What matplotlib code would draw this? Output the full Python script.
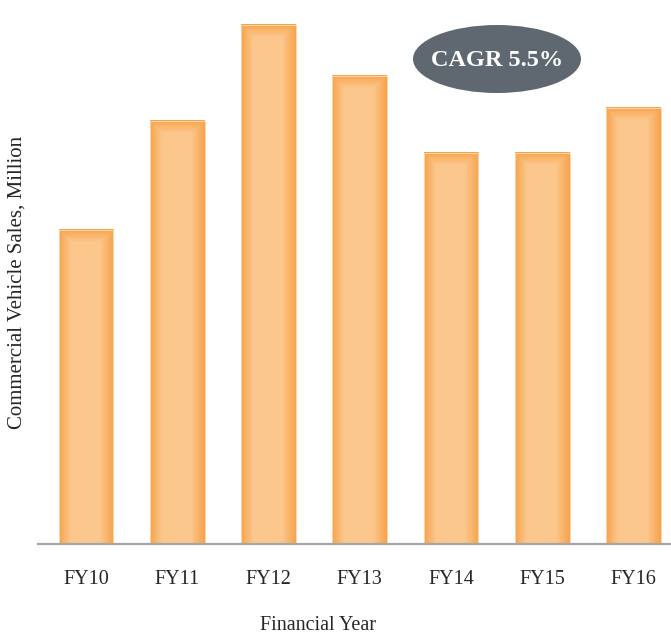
import numpy as np
import matplotlib
matplotlib.use("Agg")
import matplotlib.pyplot as plt
from matplotlib.patches import Ellipse, Rectangle

categories = ["FY10", "FY11", "FY12", "FY13", "FY14", "FY15", "FY16"]
sales = [0.49, 0.66, 0.81, 0.73, 0.61, 0.61, 0.68]
cagr_text = "CAGR 5.5%"

plt.rcParams['font.family'] = ['Liberation Serif', 'DejaVu Serif']

W, H = 671, 633
fig = plt.figure(figsize=(W / 100, H / 100), dpi=100)
ax = fig.add_axes([38 / W, (H - 543.5) / H, (W - 38) / W, 544 / H])
ax.set_xlim(-0.526, 6.411)
ax.set_ylim(0, 0.85)

dark = np.array([247, 163, 74]) / 255
light = np.array([252, 199, 141]) / 255
bw = 0.6
fig.canvas.draw()
for i, v in enumerate(sales):
    x0, x1 = i - bw / 2, i + bw / 2
    p0 = ax.transData.transform((x0, 0))
    p1 = ax.transData.transform((x1, v))
    wpx = max(int(round(p1[0] - p0[0])), 2)
    hpx = max(int(round(p1[1] - p0[1])), 2)
    xx = np.arange(wpx) + 0.5
    yy = np.arange(hpx) + 0.5  # from top
    X, Y = np.meshgrid(xx, yy)
    dl = X / 12.0
    dr = (wpx - X) / 14.0
    dt = Y / 13.0
    d = np.clip(np.minimum(np.minimum(dl, dr), dt), 0, 1)
    img = dark[None, None, :] * (1 - d[..., None]) + light[None, None, :] * d[..., None]
    ax.imshow(img, extent=(x0, x1, 0, v), origin='upper', aspect='auto',
              interpolation='nearest', zorder=2)
    ax.add_patch(Rectangle((x0, 0), bw, v, fill=False, edgecolor='#FDD6AA',
                           linewidth=0.7, zorder=3))
ax.set_xlim(-0.526, 6.411)
ax.set_ylim(0, 0.85)

for s in ['top', 'right', 'left']:
    ax.spines[s].set_visible(False)
ax.spines['bottom'].set_color('#A6A6A6')
ax.spines['bottom'].set_linewidth(1.6)
ax.spines['bottom'].set_zorder(4)
ax.set_yticks([])
ax.set_xticks(range(len(categories)))
ax.set_xticklabels(categories, fontsize=14.5, color='#262626')
ax.tick_params(axis='x', length=0, pad=19)

fig.text(318 / W, 1 - 625 / H, "Financial Year", ha='center', va='center',
         fontsize=14.5, color='#262626')
fig.text(17 / W, 1 - 282 / H, "Commercial Vehicle Sales, Million", ha='center',
         va='center', rotation=90, fontsize=15, color='#262626')

ell = Ellipse((497 / W, 1 - 59 / H), 168 / W, 68 / H, transform=fig.transFigure,
              facecolor='#5F6870', edgecolor='none', zorder=5)
fig.patches.append(ell)
fig.text(497 / W, 1 - 60 / H, cagr_text, ha='center', va='center', fontsize=17.5,
         fontweight='bold', color='white', zorder=6)

fig.savefig("out.png", dpi=100)
